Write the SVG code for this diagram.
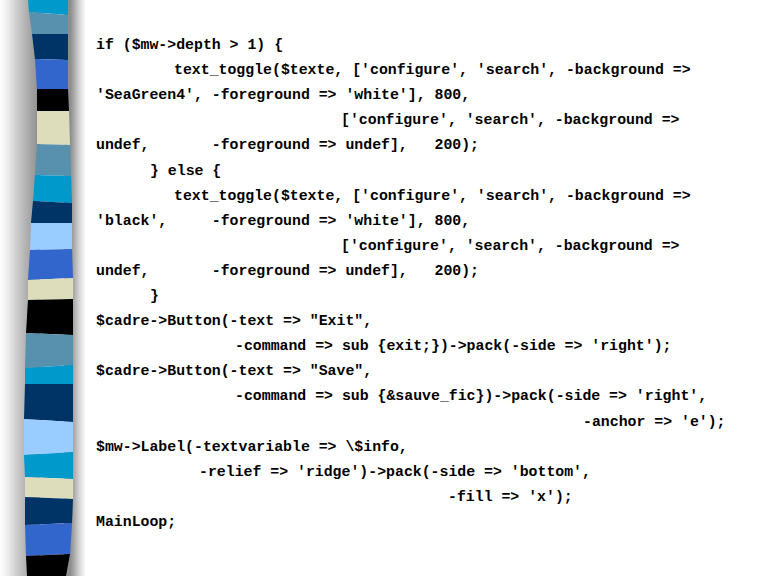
<svg xmlns="http://www.w3.org/2000/svg" width="768" height="576" viewBox="0 0 768 576">
<defs>
<linearGradient id="shL" x1="0" y1="0" x2="1" y2="0">
<stop offset="0" stop-color="#ffffff"/>
<stop offset="0.12" stop-color="#f4f4f4"/>
<stop offset="0.55" stop-color="#bdbdbd"/>
<stop offset="1" stop-color="#8a8a8a"/>
</linearGradient>
<linearGradient id="shR" x1="0" y1="0" x2="1" y2="0">
<stop offset="0" stop-color="#8a8a8a"/>
<stop offset="0.3" stop-color="#8e8e8e"/>
<stop offset="0.7" stop-color="#d6d6d6"/>
<stop offset="1" stop-color="#ffffff"/>
</linearGradient>
<style>
.code{font-family:"Liberation Mono","Courier New",monospace;font-weight:bold;font-size:14.85px;fill:#000;white-space:pre}
.cy{fill:#0099CC}.st{fill:#5891AD}.nv{fill:#003366}.rb{fill:#3366CC}.bk{fill:#000000}.be{fill:#DDDDBB}.lb{fill:#99CCFF}
</style>
</defs>
<rect x="0" y="0" width="768" height="576" fill="#ffffff"/>
<g id="ribbon">
<rect x="0" y="0" width="40" height="576" fill="url(#shL)"/>
<rect x="64" y="0" width="22" height="576" fill="url(#shR)"/>
<polygon class="cy" points="28,0 68,0 68,15 29,12"/>
<polygon class="st" points="29,12 68,15 68,34 32,34"/>
<polygon class="nv" points="32,34 68,34 68,60 35,59"/>
<polygon class="rb" points="35,59 68,60 68,89 37,89"/>
<polygon class="bk" points="37,89 68,89 69,111 37,111"/>
<polygon class="be" points="37,111 69,111 70,145 37,144"/>
<polygon class="st" points="37,144 70,145 71,176 35,175"/>
<polygon class="cy" points="35,175 71,176 72,203 33,201"/>
<polygon class="nv" points="33,201 72,203 72,223 31,223"/>
<polygon class="lb" points="31,223 72,223 72,249 30,250"/>
<polygon class="rb" points="30,250 72,249 73,278 28,280"/>
<polygon class="be" points="28,280 73,278 73,299 28,300"/>
<polygon class="bk" points="28,300 73,299 73,335 26,333"/>
<polygon class="st" points="26,333 73,335 73,365 25,368"/>
<polygon class="cy" points="25,368 73,365 73,384 25,384"/>
<polygon class="nv" points="25,384 73,384 73,422 24,419"/>
<polygon class="lb" points="24,419 73,422 73,452 24,455"/>
<polygon class="cy" points="24,455 73,452 73,479 25,477"/>
<polygon class="be" points="25,477 73,479 73,499 25,497"/>
<polygon class="nv" points="25,497 73,499 72,523 25,525"/>
<polygon class="rb" points="25,525 72,523 70,554 26,556"/>
<polygon class="bk" points="26,556 70,554 66,576 27,576"/>
</g>
<g id="code">
<text class="code" x="96" y="49">if ($mw-&gt;depth &gt; 1) {</text>
<text class="code" x="174" y="74">text_toggle($texte, ['configure', 'search', -background =&gt;</text>
<text class="code" x="96" y="99">'SeaGreen4', -foreground =&gt; 'white'], 800,</text>
<text class="code" x="341" y="124">['configure', 'search', -background =&gt;</text>
<text class="code" x="96" y="149">undef,       -foreground =&gt; undef],   200);</text>
<text class="code" x="150" y="175">} else {</text>
<text class="code" x="174" y="200">text_toggle($texte, ['configure', 'search', -background =&gt;</text>
<text class="code" x="96" y="225">'black',     -foreground =&gt; 'white'], 800,</text>
<text class="code" x="341" y="250">['configure', 'search', -background =&gt;</text>
<text class="code" x="96" y="275">undef,       -foreground =&gt; undef],   200);</text>
<text class="code" x="150" y="300">}</text>
<text class="code" x="96" y="325">$cadre-&gt;Button(-text =&gt; "Exit",</text>
<text class="code" x="235" y="350">-command =&gt; sub {exit;})-&gt;pack(-side =&gt; 'right');</text>
<text class="code" x="96" y="375">$cadre-&gt;Button(-text =&gt; "Save",</text>
<text class="code" x="235" y="400">-command =&gt; sub {&amp;sauve_fic})-&gt;pack(-side =&gt; 'right',</text>
<text class="code" x="583" y="426">-anchor =&gt; 'e');</text>
<text class="code" x="96" y="451">$mw-&gt;Label(-textvariable =&gt; \$info,</text>
<text class="code" x="199" y="476">-relief =&gt; 'ridge')-&gt;pack(-side =&gt; 'bottom',</text>
<text class="code" x="448" y="501">-fill =&gt; 'x');</text>
<text class="code" x="96" y="526">MainLoop;</text>
</g>
</svg>
